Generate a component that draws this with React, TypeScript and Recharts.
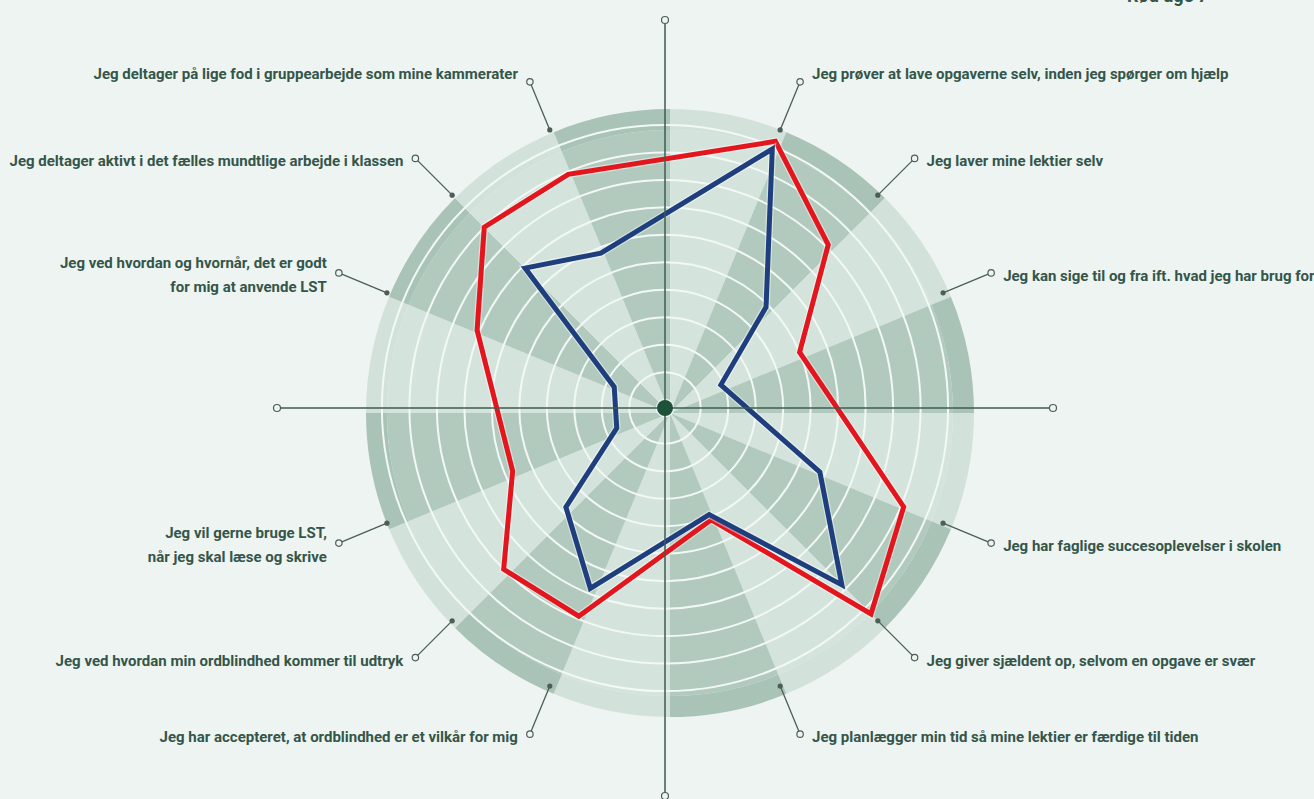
import React from "react";
import {
  RadarChart,
  Radar,
  PolarGrid,
  PolarAngleAxis,
  PolarRadiusAxis,
  PieChart,
  Pie,
  Cell,
} from "recharts";

// 16 spokes clockwise from 12 o'clock; null = bare axis direction (no statement)
const categories: (string | null)[] = [
  null,
  "Jeg prøver at lave opgaverne selv, inden jeg spørger om hjælp",
  "Jeg laver mine lektier selv",
  "Jeg kan sige til og fra ift. hvad jeg har brug for",
  null,
  "Jeg har faglige succesoplevelser i skolen",
  "Jeg giver sjældent op, selvom en opgave er svær",
  "Jeg planlægger min tid så mine lektier er færdige til tiden",
  null,
  "Jeg har accepteret, at ordblindhed er et vilkår for mig",
  "Jeg ved hvordan min ordblindhed kommer til udtryk",
  "Jeg vil gerne bruge LST,\nnår jeg skal læse og skrive",
  null,
  "Jeg ved hvordan og hvornår, det er godt\nfor mig at anvende LST",
  "Jeg deltager aktivt i det fælles mundtlige arbejde i klassen",
  "Jeg deltager på lige fod i gruppearbejde som mine kammerater",
];

const redValues = [null, 10.2, 8.1, 5.0, null, 9.1, 10.3, 4.1, null, 7.9, 8.0, 5.7, null, 7.1, 9.0, 8.9];
const blueValues = [null, 9.9, 4.9, 1.9, null, 5.8, 8.8, 3.9, null, 6.8, 4.8, 1.6, null, 1.7, 6.9, 5.8];

const ringTicks = [0, 1, 2, 3, 4, 5, 6, 7, 8, 9, 10];
const legendText = "Rød uge 7";

const W = 1314;
const H = 799;
const CX = 665;
const CY = 408;
const SCALE_R = 318; // radius of the value scale end
const OUTER_R = 304; // painted disc
const BAND_R = 283;
const DOT_R = 301;
const LEADER_R = 353;
const AXIS_R = 388;

const AXIS = "#3d5c50";
const LEADER = "#4c5e57";
const TEXT = "#34564a";
const FONT = "Roboto, 'Liberation Sans', sans-serif";

const data = categories.map((label, i) => ({
  id: `s${i}`,
  label,
  red: redValues[i],
  blue: blueValues[i],
  sector: 1,
}));

// polygon through the statement spokes only, skipping the bare axes
const OpenPolygon = (props: any) => {
  const pts = (props.points || []).filter(
    (p: any) => p.value != null && Number.isFinite(p.x) && Number.isFinite(p.y)
  );
  if (!pts.length) return null;
  const d = pts.map((p: any, i: number) => `${i ? "L" : "M"}${p.x},${p.y}`).join("") + "Z";
  return (
    <g>
      <path d={d} fill="none" stroke="#ffffff" strokeOpacity={0.45} strokeWidth={7.5} />
      <path d={d} fill="none" stroke={props.stroke} strokeWidth={props.strokeWidth} />
    </g>
  );
};

const SpokeTick = (props: any) => {
  const { payload, index } = props;
  const label = categories[index];
  const rad = (-payload.coordinate * Math.PI) / 180;
  const pt = (r: number) => ({ x: CX + r * Math.cos(rad), y: CY + r * Math.sin(rad) });

  if (label == null) {
    const end = pt(AXIS_R);
    const lineEnd = pt(AXIS_R - 3.5);
    return (
      <g>
        <line x1={CX} y1={CY} x2={lineEnd.x} y2={lineEnd.y} stroke={AXIS} strokeWidth={1.5} />
        <circle cx={end.x} cy={end.y} r={3.5} fill="none" stroke={LEADER} strokeWidth={1.2} />
        {index === 12 && <circle cx={CX} cy={CY} r={8} fill="#1e5238" />}
      </g>
    );
  }

  const dot = pt(DOT_R);
  const ring = pt(LEADER_R);
  const lineEnd = pt(LEADER_R - 3.2);
  const right = ring.x > CX;
  const tx = ring.x + (right ? 12 : -12);
  const lines = label.split("\n");
  const nearTop = Math.sin(rad) < -0.85;
  const baseY = lines.length > 1 ? ring.y - 10 : ring.y + (nearTop ? -8 : 3);

  return (
    <g>
      <line x1={dot.x} y1={dot.y} x2={lineEnd.x} y2={lineEnd.y} stroke={LEADER} strokeWidth={1.3} />
      <circle cx={dot.x} cy={dot.y} r={2.6} fill={LEADER} />
      <circle cx={ring.x} cy={ring.y} r={3.2} fill="none" stroke={LEADER} strokeWidth={1.2} />
      <text
        x={tx}
        y={baseY}
        textAnchor={right ? "start" : "end"}
        dominantBaseline="central"
        fontFamily={FONT}
        fontSize={15}
        fontWeight={700}
        fill={TEXT}
      >
        {lines.map((l, k) => (
          <tspan key={k} x={tx} dy={k === 0 ? 0 : 24}>
            {l}
          </tspan>
        ))}
      </text>
    </g>
  );
};

export default function App() {
  return (
    <div
      style={{
        position: "absolute",
        left: 0,
        top: 0,
        width: W,
        height: H,
        overflow: "hidden",
        background: "#eef4f1",
      }}
    >
      <div style={{ position: "absolute", left: 0, top: 0 }}>
        <PieChart width={W} height={H}>
          <Pie
            data={data}
            dataKey="sector"
            cx={CX}
            cy={CY}
            innerRadius={0}
            outerRadius={BAND_R}
            startAngle={90}
            endAngle={-270}
            stroke="none"
            isAnimationActive={false}
          >
            {data.map((d, i) => (
              <Cell key={d.id} fill={i % 2 === 0 ? "#d4e4dc" : "#b2cabe"} />
            ))}
          </Pie>
          <Pie
            data={data}
            dataKey="sector"
            cx={CX}
            cy={CY}
            innerRadius={BAND_R}
            outerRadius={OUTER_R}
            startAngle={90}
            endAngle={-270}
            stroke="none"
            isAnimationActive={false}
          >
            {data.map((d, i) => (
              <Cell key={d.id} fill={i % 2 === 0 ? "#d2e2da" : "#a9c3b6"} />
            ))}
          </Pie>
        </PieChart>
      </div>
      <div style={{ position: "absolute", left: 0, top: 0 }}>
        <RadarChart width={W} height={H} data={data} cx={CX} cy={CY} outerRadius={SCALE_R} startAngle={90} endAngle={-270}>
          <PolarGrid gridType="circle" radialLines={false} stroke="#f2f8f5" strokeWidth={2} />
          <PolarRadiusAxis domain={[-0.3, 11.27]} ticks={ringTicks} tick={false} axisLine={false} />
          <PolarAngleAxis dataKey="id" tick={SpokeTick} axisLine={false} tickLine={false} />
          <Radar
            dataKey="red"
            stroke="#e3161e"
            strokeWidth={5}
            fill="none"
            dot={false}
            shape={OpenPolygon}
            isAnimationActive={false}
          />
          <Radar
            dataKey="blue"
            stroke="#1e3e7e"
            strokeWidth={5}
            fill="none"
            dot={false}
            shape={OpenPolygon}
            isAnimationActive={false}
          />
        </RadarChart>
      </div>
      <div
        style={{
          position: "absolute",
          left: 1127,
          top: -13,
          fontFamily: FONT,
          fontSize: 18,
          lineHeight: "18px",
          fontWeight: 700,
          color: TEXT,
        }}
      >
        {legendText}
      </div>
    </div>
  );
}
